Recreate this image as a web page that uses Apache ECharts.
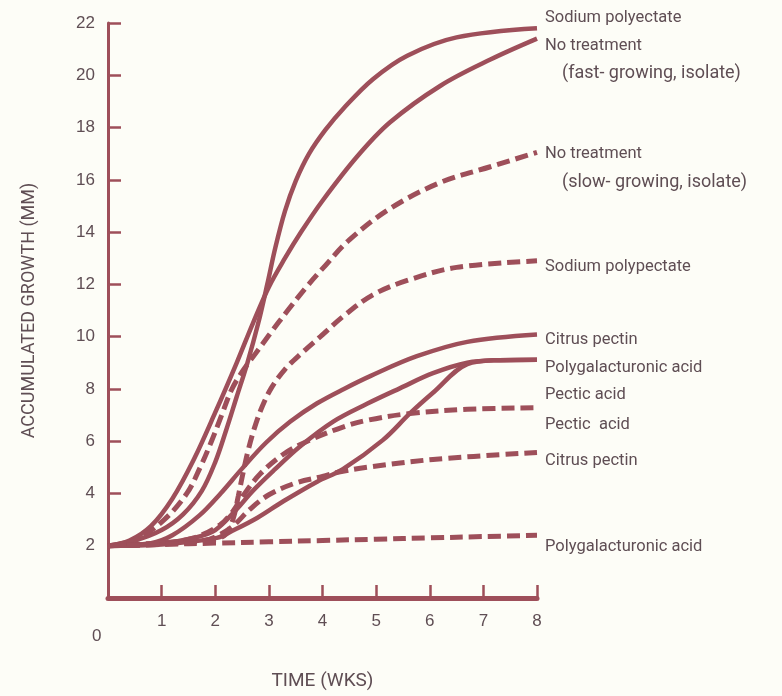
<!DOCTYPE html>
<html><head><meta charset="utf-8">
<script src="https://cdn.jsdelivr.net/npm/echarts@6/dist/echarts.min.js"></script>
<style>html,body{margin:0;padding:0;background:#fdfdf7;}#c{width:782px;height:696px;}</style>
</head><body><div id="c"></div>
<script>
// Accumulated growth (mm) vs time (weeks), [week, mm]
const noTreatmentFast = [[0,2],[0.4,2.2],[0.8,2.75],[1.2,3.8],[1.6,5.3],[2.0,7.1],[2.4,9.0],[2.7,10.5],[3.0,11.9],[3.3,13.0],[3.6,14.0],[4.0,15.2],[4.65,16.9],[5.26,18.2],[6.2,19.6],[7.13,20.6],[8,21.4]];
const sodiumSolid = [[0,2],[0.5,2.2],[1.0,2.6],[1.4,3.2],[1.75,4.1],[2.0,5.2],[2.2,6.4],[2.4,7.7],[2.6,9.0],[2.8,10.5],[2.97,12.0],[3.12,13.4],[3.3,14.8],[3.5,15.95],[3.75,17.0],[4.05,17.9],[4.4,18.75],[4.94,19.85],[5.58,20.75],[6.5,21.45],[8,21.8]];
const noTreatmentSlow = [[0,2],[0.5,2.2],[1.05,3.0],[1.47,4.0],[1.72,5.0],[1.93,6.0],[2.12,7.0],[2.3,7.95],[2.5,8.65],[2.75,9.35],[3.0,10.05],[3.35,11.0],[3.7,11.9],[4.0,12.6],[4.5,13.7],[5.26,14.9],[6.2,15.9],[7.13,16.5],[8,17.05]];
const sodiumDashed = [[0,2],[1,2.1],[2,2.25],[2.2,2.45],[2.33,3.0],[2.43,3.9],[2.52,4.8],[2.62,5.7],[2.73,6.5],[2.87,7.3],[3.05,8.05],[3.3,8.75],[3.6,9.35],[3.96,10.0],[4.4,10.8],[4.94,11.6],[5.58,12.15],[6.5,12.65],[8,12.9]];
const citrusSolid = [[0,2],[0.8,2.1],[1.2,2.4],[1.7,3.15],[2.1,4.0],[2.5,4.95],[2.95,5.95],[3.4,6.75],[3.9,7.45],[4.4,8.0],[4.9,8.5],[5.76,9.25],[6.7,9.8],[8,10.08]];
const pecticSolid = [[0,2],[1,2.1],[1.6,2.3],[2.0,2.6],[2.4,3.4],[2.7,4.1],[3.1,4.9],[3.58,5.8],[4.2,6.75],[4.83,7.43],[5.45,8.03],[6.06,8.6],[6.7,9.0],[7.3,9.1],[8,9.12]];
const polySolid = [[0,2],[1,2.05],[2.03,2.3],[2.33,2.58],[2.78,3.06],[3.27,3.7],[3.9,4.45],[4.38,4.93],[5.13,6.05],[5.63,7.06],[6.06,7.85],[6.7,8.95],[7.3,9.1],[8,9.12]];
const pecticDashed = [[0,2],[1,2.1],[1.6,2.3],[2.09,2.8],[2.33,3.32],[2.52,3.92],[2.84,4.75],[3.27,5.5],[3.77,6.05],[4.38,6.54],[4.83,6.8],[5.63,7.06],[6.7,7.22],[8,7.28]];
const citrusDashed = [[0,2],[1,2.05],[1.8,2.2],[2.09,2.43],[2.33,2.75],[2.65,3.4],[3.0,3.95],[3.5,4.4],[4.0,4.65],[4.33,4.83],[4.83,5.0],[6.06,5.3],[8,5.57]];
const polyDashed = [[0,2],[1,2.05],[2,2.1],[3,2.15],[4,2.2],[5,2.25],[6,2.3],[7,2.35],[8,2.4]];

const yTicks = [0,2,4,6,8,10,12,14,16,18,20,22];
const xTicks = [0,1,2,3,4,5,6,7,8];
const labelTexts = [
  ['Sodium polyectate', 0], ['No treatment', 0], ['(fast- growing, isolate)', 1],
  ['No treatment', 0], ['(slow- growing, isolate)', 1], ['Sodium polypectate', 0],
  ['Citrus pectin', 0], ['Polygalacturonic acid', 0], ['Pectic acid', 0],
  ['Pectic  acid', 0], ['Citrus pectin', 0], ['Polygalacturonic acid', 0]
];
const labelY = [19, 47, 74, 155, 183, 268, 341, 369, 396, 426, 462, 548];

const C = '#9e4f5a';
const TXT = '#5f4e54';
const solid = [noTreatmentFast, sodiumSolid, citrusSolid, pecticSolid, polySolid];
const dashed = [noTreatmentSlow, sodiumDashed, pecticDashed, citrusDashed, polyDashed];

const series = [];
solid.forEach(d => series.push({type:'line', data:d, smooth:0.35, symbol:'none',
  lineStyle:{color:C, width:4.5}, z:2, silent:true}));
dashed.forEach(d => series.push({type:'line', data:d, smooth:0.35, symbol:'none',
  lineStyle:{color:C, width:5, type:[13,6]}, z:3, silent:true}));

const graphic = labelTexts.map((t,i) => ({
  type:'text', left: 545 + (t[1] ? 17 : 0), top: labelY[i] - 10,
  style:{text:t[0], fill:TXT, font: (t[1] ? '18px' : '16.5px') + ' Roboto, "DejaVu Sans", sans-serif'}
}));
graphic.push({type:'text', left:92, top:628, style:{text:'0', fill:TXT, font:'17px "Liberation Sans", sans-serif'}});

const chart = echarts.init(document.getElementById('c'), null, {renderer:'canvas'});
chart.setOption({
  backgroundColor:'#fdfdf7',
  animation:false,
  grid:{left:108, right:245, top:23, bottom:84},
  xAxis:{type:'value', min:xTicks[0], max:xTicks[xTicks.length-1], interval:1,
    name:'TIME (WKS)', nameLocation:'middle', nameGap:74,
    nameTextStyle:{color:TXT, fontSize:19, fontFamily:'Roboto'},
    axisLine:{lineStyle:{color:C, width:5}},
    axisTick:{inside:true, length:13, lineStyle:{color:C, width:2.5}},
    axisLabel:{color:TXT, fontSize:17, fontFamily:'Liberation Sans', margin:15,
      formatter:v => v === 0 ? '' : String(v)},
    splitLine:{show:false}},
  yAxis:{type:'value', min:yTicks[0], max:yTicks[yTicks.length-1], interval:2,
    name:'ACCUMULATED GROWTH (MM)', nameLocation:'middle', nameGap:70, nameRotate:90,
    nameTextStyle:{color:TXT, fontSize:18, fontFamily:'Roboto'},
    axisLine:{lineStyle:{color:C, width:3}},
    axisTick:{inside:true, length:13, lineStyle:{color:C, width:2.5}},
    axisLabel:{color:TXT, fontSize:17, fontFamily:'Liberation Sans', margin:13,
      formatter:v => v === 0 ? '' : String(v)},
    splitLine:{show:false}},
  series: series,
  graphic: graphic
});
</script></body></html>
